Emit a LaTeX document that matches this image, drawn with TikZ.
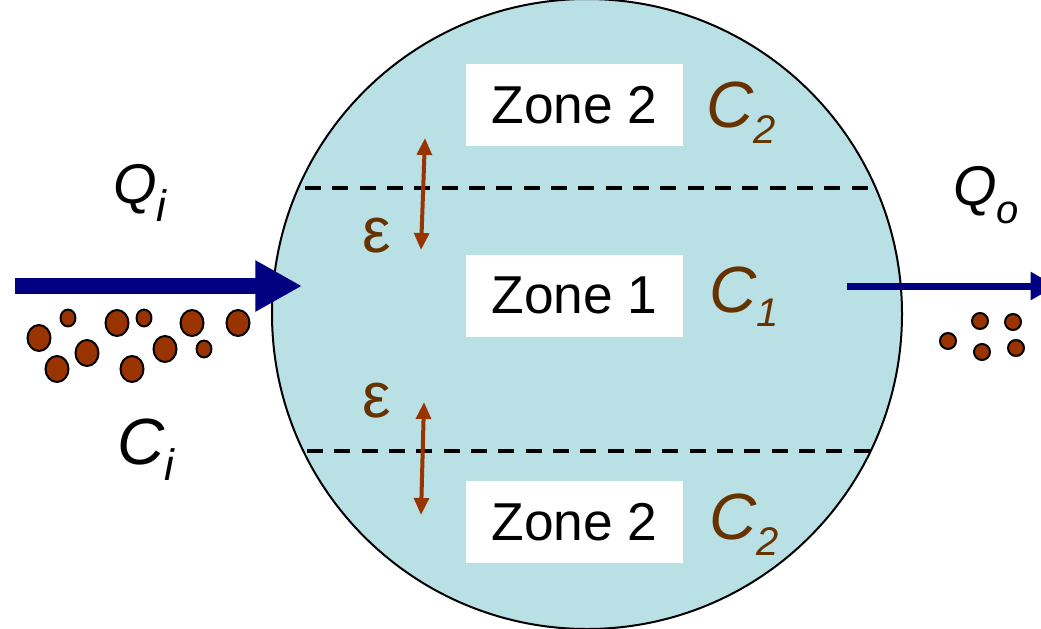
\documentclass[tikz,border=0pt]{standalone}
\usepackage{fontspec}
\setmainfont{Liberation Sans}
\usetikzlibrary{arrows.meta}
\definecolor{tankblue}{RGB}{185,224,228}
\definecolor{flownavy}{RGB}{0,0,128}
\definecolor{mixbrown}{RGB}{102,51,0}
\definecolor{grainred}{RGB}{153,51,0}
\newcommand{\lowsub}[2][11pt]{\raisebox{-#1}{\fontsize{30}{30}\selectfont #2}}

\begin{document}
\begin{tikzpicture}[x=0.75pt, y=-0.75pt,
    zonebox/.style={fill=white, minimum width=162.75pt, minimum height=61.5pt,
                    inner sep=0pt, font=\fontsize{40}{40}\selectfont},
    conclabel/.style={text=mixbrown, anchor=base west, inner sep=0pt,
                      font=\fontsize{49}{49}\selectfont\itshape},
    flowlabel/.style={anchor=base west, inner sep=0pt,
                      font=\fontsize{42}{42}\selectfont\itshape},
    epslabel/.style={text=mixbrown, anchor=base west, inner sep=0pt,
                     font=\fontsize{48}{48}\selectfont},
    zoneline/.style={black, line width=2.6pt, dash pattern=on 12pt off 8.5pt},
    grain/.style={draw=black, line width=1.5pt, fill=grainred},
    mixarrow/.style={grainred, line width=3pt,
                     {Triangle[length=12.75pt,width=11pt]}-{Triangle[length=12.75pt,width=11pt]}}]
    \clip (0,0) rectangle (1041,628);

    %% the well mixed tank
    \draw[fill=tankblue, line width=1.5pt] (587,314) circle [radius=315];

    %% zone boundaries
    \draw[zoneline] (305,188) -- (870,188);
    \draw[zoneline] (307,451) -- (872,451);

    %% zones and concentrations
    \node[zonebox] (zone2top) at (574.5,105) {Zone 2};
    \node[zonebox] (zone1)    at (574.5,295.5) {Zone 1};
    \node[zonebox] (zone2bot) at (574.5,522) {Zone 2};
    \node[conclabel] (c2top) at (706,127) {C\lowsub[12pt]{2}};
    \node[conclabel] (c1)    at (709,312) {C\lowsub{1}};
    \node[conclabel] (c2bot) at (709,539) {C\lowsub[12pt]{2}};

    %% exchange between zones
    \coordinate (epstopA) at (425,138);
    \coordinate (epstopB) at (421,250);
    \coordinate (epsbotA) at (424,402);
    \coordinate (epsbotB) at (421,515);
    \draw[mixarrow] (epstopA) -- (epstopB);
    \draw[mixarrow] (epsbotA) -- (epsbotB);
    \node[epslabel] (epstop) at (362,252) {ε};
    \node[epslabel] (epsbot) at (362,417) {ε};

    %% inflow
    \coordinate (inletstart) at (15,286);
    \coordinate (inlettip)   at (302,286);
    \draw[flownavy, line width=12pt, -{Triangle[length=35pt,width=36pt]}] (inletstart) -- (inlettip);
    \node[flowlabel] (qin) at (113,203) {Q\lowsub[14pt]{\fontsize{33}{33}\selectfont i}};
    \node[conclabel, text=black] (cin) at (117,464) {C\lowsub[12pt]{\fontsize{33}{33}\selectfont i}};
    \foreach \gx/\gy/\gr in {39/338/1, 68/318/0.65, 57/369/1, 87/353/1, 117/323/1,
                             144/318/0.65, 132/369/1, 165/349/1, 192/323/1,
                             204/349/0.65, 238/323/1}
      \draw[grain] (\gx,\gy) ellipse [x radius=11.5*\gr, y radius=13*\gr];

    %% outflow
    \coordinate (outletstart) at (847,286);
    \coordinate (outlettip)   at (1056,286);
    \draw[flownavy, line width=5.25pt, -{Triangle[length=19pt,width=20pt]}] (outletstart) -- (outlettip);
    \node[flowlabel] (qout) at (953,205) {Q\lowsub[14pt]{o}};
    \foreach \gx/\gy in {980/321, 1013/322, 948/341, 982/352, 1016/348}
      \draw[grain] (\gx,\gy) circle [radius=8];
\end{tikzpicture}
\end{document}
